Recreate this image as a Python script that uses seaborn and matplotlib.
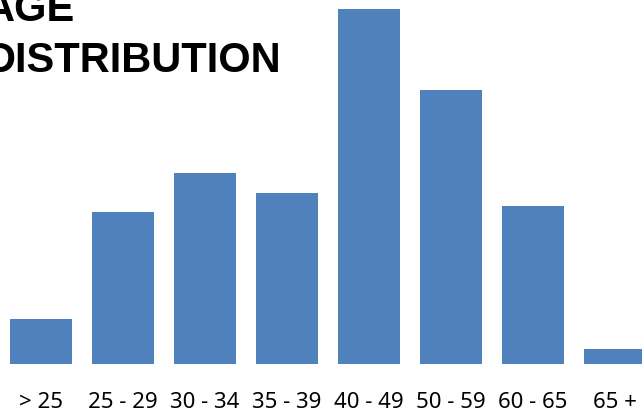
import matplotlib
matplotlib.use("Agg")
import matplotlib.pyplot as plt
import seaborn as sns
import pandas as pd

sns.set_style("white")

# data
age_groups = ["> 25", "25 - 29", "30 - 34", "35 - 39", "40 - 49", "50 - 59", "60 - 65", "65 +"]
counts = [45, 152, 191, 171, 355, 274, 158, 15]

df = pd.DataFrame({"group": age_groups, "count": counts})

W, H = 642, 419
fig = plt.figure(figsize=(W / 100, H / 100), dpi=100)
ax = fig.add_axes([0, 55 / H, 1, 355 / H])

sns.barplot(data=df, x="group", y="count", color="#4F81BD", saturation=1,
            width=0.756, edgecolor="none", ax=ax)

# categories sit 82 px apart, first one centred at x = 41 px
ax.set_xlim(-41 / 82, (W - 41) / 82)
ax.set_ylim(0, 355)
ax.set_xlabel("")
ax.set_ylabel("")
ax.set_yticks([])
for s in ax.spines.values():
    s.set_visible(False)
ax.tick_params(axis="x", length=0, pad=20)
for lbl in ax.get_xticklabels():
    lbl.set_fontfamily("Noto Sans")
    lbl.set_fontsize(16)
    lbl.set_color("black")

# title, partly cut off at the top-left like the reference
fig.text(-15 / W, (H - 21) / H, "AGE", fontfamily="Liberation Sans",
         fontweight="bold", fontsize=30, va="baseline", ha="left", color="black")
fig.text(-15 / W, (H - 72) / H, "DISTRIBUTION", fontfamily="Liberation Sans",
         fontweight="bold", fontsize=30, va="baseline", ha="left", color="black")

fig.savefig("out.png", dpi=100)
